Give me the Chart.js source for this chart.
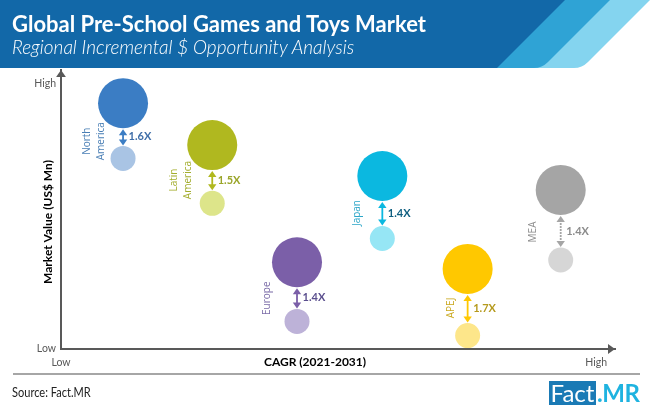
<!DOCTYPE html>
<html>
<head>
<meta charset="utf-8">
<title>Global Pre-School Games and Toys Market</title>
<script src="https://cdn.jsdelivr.net/npm/chart.js@4"></script>
<style>
  body { margin: 0; background: #fff; }
  #wrap { position: relative; width: 650px; height: 408px; overflow: hidden; }
  #myChart { position: absolute; left: 0; top: 0; }
  #banner { position: absolute; left: 0; top: 0; }
  .title { position: absolute; left: 12px; top: 10px; color: #fff; font: bold 22px Lato, sans-serif; white-space: nowrap; }
  .subtitle { position: absolute; left: 12px; top: 35px; color: #fff; font: italic 300 19px Lato, sans-serif; white-space: nowrap; }
  .rule { position: absolute; left: 13px; top: 373px; width: 627px; height: 2px; background: #a6a6a6; }
  .source { position: absolute; left: 12px; top: 384px; color: #222; font: 13px Lato, sans-serif; transform: scaleX(0.85); transform-origin: left; }
  .fact { position: absolute; left: 549px; top: 381px; width: 47px; height: 24px; text-align: center; background: #1a7ab5; color: #fff; font: 24px/24px Lato, sans-serif; }
  .mr { position: absolute; left: 597px; top: 381px; color: #1fb3e0; font: bold 24px/24px Lato, sans-serif; letter-spacing: -0.5px; }
</style>
</head>
<body>
<div id="wrap">
  <canvas id="myChart" width="650" height="408"></canvas>
  <svg id="banner" width="650" height="68">
    <path d="M480 0H650L588 62Q582 68 574 68H480Z" fill="#84d4ef"/>
    <path d="M460 0H610L548 62Q542 68 534 68H460Z" fill="#2fa3d5"/>
    <path d="M0 0H565L497 68H0Z" fill="#1268a8"/>
  </svg>
  <div class="title">Global Pre-School Games and Toys Market</div>
  <div class="subtitle">Regional Incremental $ Opportunity Analysis</div>
  <div class="rule"></div>
  <div class="source">Source: Fact.MR</div>
  <div class="fact">Fact</div>
  <div class="mr">.MR</div>
</div>
<script>
// all values are read off the picture, axes have no units so 0-100 is used
var regions = [['North', 'America'], ['Latin', 'America'], ['Europe'], ['Japan'], ['APEJ'], ['MEA']]
var cagr = [11.2, 27.3, 42.6, 58.0, 73.4, 90.2]
var marketValue2031 = [88.1, 73.1, 31.1, 62.0, 28.7, 57.0]
var marketValue2021 = [68.3, 52.2, 9.9, 39.6, 4.8, 31.9]
var multiples = ['1.6X', '1.5X', '1.4X', '1.4X', '1.7X', '1.4X']
var tickLabels = ['Low', 'High']
var xTickValues = [0, 96.6]
var yTickValues = [0, 95.3]

var bigColors = ['#3b7dc4', '#b0b81f', '#7b5fa8', '#0bb8e0', '#ffc800', '#a5a5a5']
var smallColors = ['#a9c4e4', '#dde58a', '#bdb2d8', '#96e6f5', '#fde68a', '#d6d6d6']
var textColors = ['#3f6ea8', '#9aa52a', '#5b4f8e', '#0f5f80', '#b59a1e', '#8c8c8c']
var nameColors = ['#4a7fb5', '#a3ad2c', '#7b6ca8', '#2ba6c8', '#c9a71c', '#8c8c8c']
// where the region name sits relative to the big bubble: px left of it, px below it
var nameLeft = [29, 31, 30, 25, 16, 28]
var nameBelow = [38, 35, 36, 37, 39, 42]

var axisColor = '#595959'

function toBubbles(values, r) {
  return values.map((v, i) => ({x: cagr[i], y: v, r: r}))
}

function axisTicks(values) {
  return function (scale) {
    scale.ticks = values.map(v => ({value: v}))
  }
}

function tickLabel(value) {
  return value === 0 ? tickLabels[0] : tickLabels[1]
}

function drawArrowHead(ctx, x, y, dx, dy, size) {
  ctx.beginPath()
  ctx.moveTo(x, y)
  ctx.lineTo(x - dx * size - dy * size * 0.7, y - dy * size - dx * size * 0.7)
  ctx.lineTo(x - dx * size + dy * size * 0.7, y - dy * size + dx * size * 0.7)
  ctx.closePath()
  ctx.fill()
}

var annotations = {
  id: 'annotations',
  afterDraw(chart) {
    var ctx = chart.ctx
    var area = chart.chartArea
    var big = chart.getDatasetMeta(0).data
    var small = chart.getDatasetMeta(1).data
    ctx.save()

    // axis arrow heads
    ctx.fillStyle = axisColor
    drawArrowHead(ctx, area.left, area.top, 0, -1, 7)
    drawArrowHead(ctx, area.right, area.bottom, 1, 0, 7)

    // axis titles
    ctx.fillStyle = '#000'
    ctx.font = 'bold 12px Lato, sans-serif'
    ctx.textAlign = 'center'
    ctx.textBaseline = 'middle'
    ctx.fillText('CAGR (2021-2031)', 315, 362)
    ctx.save()
    ctx.translate(48, 222)
    ctx.rotate(-Math.PI / 2)
    ctx.fillText('Market Value (US$ Mn)', 0, 0)
    ctx.restore()

    for (var i = 0; i < regions.length; i++) {
      var x = big[i].x
      var top = big[i].y + 26
      var bottom = small[i].y - 13

      // double arrow between the two bubbles
      ctx.strokeStyle = bigColors[i]
      ctx.fillStyle = bigColors[i]
      ctx.lineWidth = 1.8
      ctx.setLineDash(i === 5 ? [2, 1] : [])
      ctx.beginPath()
      ctx.moveTo(x, top + 4)
      ctx.lineTo(x, bottom - 4)
      ctx.stroke()
      ctx.setLineDash([])
      drawArrowHead(ctx, x, top, 0, -1, 6)
      drawArrowHead(ctx, x, bottom, 0, 1, 6)

      // multiple
      ctx.fillStyle = textColors[i]
      ctx.font = 'bold 11px Lato, sans-serif'
      ctx.textAlign = 'left'
      ctx.fillText(multiples[i], x + 5.5, (big[i].y + small[i].y) / 2 + 6)

      // region name, rotated
      ctx.save()
      ctx.translate(x - nameLeft[i], big[i].y + nameBelow[i])
      ctx.rotate(-Math.PI / 2)
      ctx.fillStyle = nameColors[i]
      ctx.font = '10px "Open Sans", sans-serif'
      ctx.textAlign = 'center'
      var lines = regions[i]
      lines.forEach((line, n) => {
        ctx.fillText(line, 0, (n - (lines.length - 1) / 2) * 14)
      })
      ctx.restore()
    }
    ctx.restore()
  }
}

var ctx = document.getElementById('myChart').getContext('2d')
var chart = new Chart(ctx, {
  type: 'bubble',
  data: {
    datasets: [{
      label: 'Market value 2031',
      data: toBubbles(marketValue2031, 25),
      backgroundColor: bigColors,
      borderWidth: 0,
      clip: false
    }, {
      label: 'Market value 2021',
      data: toBubbles(marketValue2021, 12.5),
      backgroundColor: smallColors,
      borderWidth: 0,
      clip: false
    }]
  },
  options: {
    responsive: false,
    animation: false,
    layout: { padding: { top: 70, right: 35 } },
    plugins: {
      legend: { display: false },
      tooltip: { enabled: false }
    },
    scales: {
      x: {
        min: 0,
        max: 100,
        afterBuildTicks: axisTicks(xTickValues),
        afterFit(scale) { scale.height = 59 },
        grid: { display: false, drawTicks: false },
        border: { color: axisColor, width: 2 },
        ticks: {
          callback: tickLabel,
          autoSkip: false,
          maxRotation: 0,
          padding: 7,
          color: axisColor,
          font: { family: 'Lato, sans-serif', size: 10.5 }
        }
      },
      y: {
        min: 0,
        max: 100,
        afterBuildTicks: axisTicks(yTickValues),
        afterFit(scale) { scale.width = 61 },
        grid: { display: false, drawTicks: false },
        border: { color: axisColor, width: 2 },
        ticks: {
          callback: tickLabel,
          autoSkip: false,
          padding: 5,
          color: axisColor,
          font: { family: 'Lato, sans-serif', size: 10.5 }
        }
      }
    }
  },
  plugins: [annotations]
})
</script>
</body>
</html>
